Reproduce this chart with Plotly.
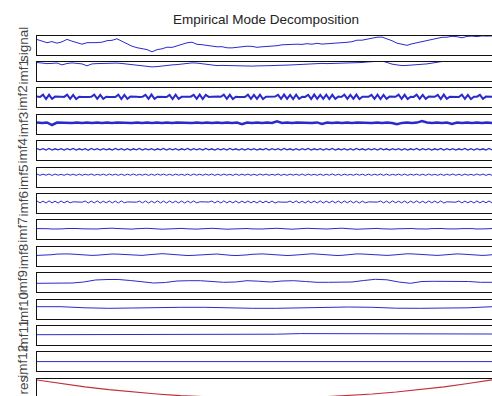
import numpy as np
import plotly.graph_objects as go

# ---------------- data ----------------
labels = ["signal", "imf1", "imf2", "imf3", "imf4", "imf5", "imf6", "imf7",
          "imf8", "imf9", "imf10", "imf11", "imf12", "res."]

signal = [5.5, 4.2, 2.3, 3.4, 1.8, 3.2, 5.6, 3.8, 2.2, 0.8,
          2.3, 2.2, 2.4, 2.8, 4.3, 4.7, 6.2, 3.7, 1.3, -1.2,
          -2.7, -3.9, -4.6, -6.8, -4.7, -3.8, -2.2, -2.4, -0.7, 0.3,
          2.2, 2.8, 0.7, 0.3, -0.4, -0.8, -1.8, -1.7, -2.8, -2.9,
          -2.2, -1.3, -1.2, -1.4, -2.3, -1.8, -1.6, -0.8, -0.7, 0.2,
          0.4, 1.2, 0.8, 0.6, 1.3, 0.8, 1.7, 0.9, 1.2, 1.4,
          2.2, 1.8, 2.7, 3.3, 4.8, 4.8, 5.7, 6.3, 7.8, 7.9,
          6.2, 4.3, 1.8, 0.7, -0.3, 1.2, 2.3, 3.7, 4.3, 5.7,
          6.3, 7.7, 7.8, 8.7, 8.3, 7.2, 8.6, 8.9, 8.4, 9.1,
          8.9, 9.1]

imf1 = [8.9, 8.3, 7.8, 8.0, 8.4, 6.5, 7.9, 8.5, 7.8, 7.5,
        5.6, 7.5, 7.8, 8.0, 8.3, 8.5, 8.3, 7.9, 7.3, 6.5,
        5.8, 5.5, 4.8, 4.5, 4.8, 5.5, 5.8, 6.5, 6.8, 7.5,
        7.8, 8.5, 8.3, 7.5, 6.8, 6.5, 5.8, 6.0, 5.8, 5.5,
        5.3, 5.5, 5.4, 5.3, 5.5, 5.4, 5.9, 5.8, 6.0, 5.9,
        6.3, 6.5, 6.8, 7.0, 7.3, 8.0, 7.8, 8.0, 7.8, 7.9,
        8.0, 7.8, 7.9, 8.0, 8.4, 8.9, 9.4, 9.9, 10.4, 10.4,
        8.9, 7.3, 6.5, 5.8, 6.0, 6.3, 6.5, 6.8, 7.5, 8.3,
        9.4, 9.9, 9.9, 10.9, 11.4, 11.4, 10.9, 10.4, 9.9, 10.9,
        11.4, 10.9]

imf2 = [1.2, 0.8, 3.2, -1.2, 3.0, -1.0, 1.2, 0.8, 1.1, 0.9,
        3.1, -1.1, 2.9, -1.2, 1.1, 0.9, 1.2, 0.8, 1.0, 3.2,
        -1.1, 3.0, -1.0, 1.1, 0.9, 1.2, 0.8, 3.1, -1.2, 2.9,
        -1.0, 1.2, 0.8, 1.1, 0.9, 1.0, 3.0, -1.1, 3.2, -1.0,
        1.1, 0.9, 1.2, 0.8, 2.9, -1.2, 3.1, -1.0, 1.0, 1.2,
        0.8, 1.1, 3.0, -1.1, 3.2, -1.2, 2.9, 0.9, 1.1, 0.8,
        1.2, 1.0, 3.1, -1.0, 3.0, -1.2, 1.1, 0.9, 1.2, 0.8,
        3.2, -1.1, 2.9, -1.0, 3.1, -1.2, 1.0, 1.1, 0.9, 1.2,
        3.0, -1.0, 3.2, -1.1, 2.9, -1.2, 3.1, -1.0, 1.1, 0.9,
        3.0, -1.2, 3.2, -1.0, 2.9, -1.1, 3.1, -1.2, 3.0, -1.0,
        1.2, 0.8, 3.1, -1.1, 2.9, -1.0, 3.2, -1.2, 1.1, 0.9,
        1.0, 3.0, -1.1, 3.1, -1.2, 2.9, -1.0, 1.2, 0.8, 1.1,
        3.2, -1.0, 3.0, -1.2, 1.1, 0.9, 3.1, -1.1, 2.9, -1.0,
        1.2, 0.8, 1.0, 3.0, -1.2, 3.2, -1.1, 1.1, 0.9, 1.2,
        0.8, 3.1, -1.0, 2.9, -1.2, 1.0, 1.1, 3.0, -1.1, 1.2,
        0.9, 1.0]

imf3 = [1.8, 1.2, 1.7, -0.8, 1.6, 1.3, 1.7, 1.2, 1.8, 1.3,
        1.6, 1.2, 1.7, 1.3, 1.8, 1.2, 1.6, 1.3, 1.7, 1.2,
        1.8, 1.3, 1.6, 1.2, 1.7, 1.3, 1.8, 1.2, 1.6, 1.3,
        1.7, 1.2, 1.8, 1.3, 1.6, 1.2, 1.7, 1.3, 1.8, 1.2,
        1.6, 0.0, 1.7, 1.2, 1.8, 1.3, 1.6, 1.2, 3.0, 1.3,
        1.8, 1.2, 1.6, 1.3, 1.7, 1.2, 1.8, 0.2, 1.6, 1.2,
        1.7, 1.3, 1.8, 1.2, 1.6, 1.3, 1.7, 1.2, 1.8, 1.3,
        1.6, 1.2, 0.0, 1.3, 1.8, 1.2, 1.6, 3.2, 1.7, 1.2,
        1.8, 1.3, 1.6, 0.3, 1.7, 1.2, 1.8, 1.3, 1.6, 1.2,
        1.7, 1.3]

imf4 = [2.0, 0.7, 1.9, 0.5, 2.1, 0.6, 1.8, 0.8, 2.0, 0.5,
        1.9, 0.7, 2.2, 0.6, 1.8, 0.7, 2.0, 0.4, 2.1, 0.7,
        1.9, 0.6, 2.0, 0.8, 1.8, 0.5, 2.1, 0.7, 1.9, 0.6,
        2.0, 0.5, 1.8, 0.7, 2.2, 0.6, 1.9, 0.8, 2.0, 0.6,
        1.8, 0.7, 2.1, 0.5, 1.9, 0.7, 2.0, 0.6, 1.8, 0.8,
        2.1, 0.5, 1.9, 0.7, 2.0, 0.6, 2.2, 0.7, 1.8, 0.5,
        2.0, 0.7, 1.9, 0.6, 2.1, 0.8, 1.8, 0.6, 2.0, 0.5,
        1.9, 0.7, 2.0, 0.6, 1.8, 0.7, 2.1, 0.5, 1.9, 0.8,
        2.0, 0.6, 2.2, 0.7, 1.8, 0.6, 2.0, 0.5, 1.9, 0.7,
        2.1, 0.6, 1.8, 0.8, 2.0, 0.5, 1.9, 0.7, 2.1, 0.6,
        1.8, 0.7, 2.0, 0.6, 1.9, 0.5, 2.2, 0.7, 1.8, 0.6,
        2.0, 0.8, 1.9, 0.5, 2.1, 0.7, 1.8, 0.6, 2.0, 0.7,
        1.9, 0.5, 2.0, 0.6, 1.8, 0.8, 2.1, 0.6, 1.9, 0.7,
        2.0, 0.5, 1.8, 0.7, 2.2, 0.6, 1.9, 0.7, 2.0, 0.6,
        1.8, 0.7, 2.1, 0.5, 1.9, 0.6, 2.0, 0.8, 1.8, 0.6,
        2.1, 0.7]

imf5 = [2.9, 1.7, 2.8, 1.8, 3.0, 1.6, 2.9, 1.8, 2.7, 1.7,
        3.0, 1.8, 2.8, 1.6, 2.9, 1.7, 2.8, 1.9, 3.0, 1.7,
        2.7, 1.8, 2.9, 1.6, 3.0, 1.8, 2.8, 1.7, 2.9, 1.6,
        2.8, 1.8, 3.0, 1.7, 2.7, 1.8, 2.9, 1.6, 2.8, 1.7,
        3.0, 1.8, 2.9, 1.7, 2.8, 1.6, 2.9, 1.8, 2.7, 1.7,
        2.9, 1.6, 3.0, 1.8, 2.8, 1.7, 2.9, 1.8, 3.0, 1.6,
        2.8, 1.7, 2.9, 1.8, 2.7, 1.6, 3.0, 1.7, 2.8, 1.8,
        2.9, 1.7, 2.8, 1.6, 3.0, 1.8, 2.9, 1.7, 2.7, 1.8,
        3.0, 1.6, 2.8, 1.7, 2.9, 1.8, 2.8, 1.7, 3.0, 1.6,
        2.9, 1.8, 2.7, 1.7, 2.9, 1.6, 2.8, 1.8, 3.0, 1.7,
        2.8, 1.6, 2.9, 1.8, 2.7, 1.7, 3.0, 1.8, 2.8, 1.6,
        2.9, 1.7, 2.8, 1.8, 3.0, 1.6, 2.9, 1.7, 2.7, 1.8,
        2.9, 1.7, 3.0, 1.6, 2.8, 1.8, 2.9, 1.7, 2.8, 1.6,
        3.0, 1.8, 2.7, 1.7, 2.9, 1.6, 2.8, 1.8, 3.0, 1.7,
        2.8, 1.6, 2.9, 1.8, 2.7, 1.7, 3.0, 1.8, 2.9, 1.6,
        2.8, 1.7]

imf6 = [2.4, 0.5, 2.3, 0.4, 2.5, 0.6, 2.2, 0.4, 2.4, 0.5,
        2.3, 0.6, 1.6, 1.3, 1.5, 1.2, 2.4, 0.4, 2.3, 0.5,
        2.5, 0.4, 2.2, 0.6, 2.4, 0.5, 2.3, 0.4, 2.5, 0.6,
        1.5, 1.3, 1.6, 1.2, 2.3, 0.5, 2.4, 0.4, 2.2, 0.6,
        2.5, 0.5, 2.3, 0.4, 2.4, 0.6, 2.2, 0.5, 2.4, 0.4,
        2.3, 0.6, 2.5, 0.5, 1.6, 1.2, 1.5, 1.3, 2.4, 0.5,
        2.3, 0.4, 2.5, 0.6, 2.2, 0.5, 2.4, 0.4, 2.3, 0.6,
        2.4, 0.5, 2.2, 0.4, 2.5, 0.6, 2.3, 0.5, 2.4, 0.4,
        1.6, 1.3, 1.5, 1.2, 2.3, 0.6, 2.5, 0.5, 2.2, 0.4,
        2.4, 0.6, 2.3, 0.5, 2.5, 0.4, 2.2, 0.6, 2.4, 0.5,
        2.3, 0.4, 2.4, 0.6, 2.5, 0.5, 2.2, 0.4, 2.3, 0.6,
        1.5, 1.2, 1.6, 1.3, 2.4, 0.5, 2.3, 0.4, 2.5, 0.6,
        2.2, 0.5, 2.4, 0.4, 2.3, 0.6, 2.5, 0.5, 2.2, 0.4,
        2.4, 0.6, 2.3, 0.5, 2.5, 0.4, 1.6, 1.3, 1.5, 1.2,
        2.4, 0.5, 2.3, 0.6, 2.2, 0.4, 2.5, 0.5, 2.3, 0.6,
        2.4, 0.5]

imf7 = [1.2, 1.4, 1.1, 0.8, 0.7, 0.9, 1.3, 1.5, 1.3, 1.0,
        0.7, 0.6, 0.8, 1.2, 1.5, 1.6, 1.3, 0.9, 0.6, 0.7,
        1.1, 1.4, 1.5, 1.2, 0.8, 0.6, 0.8, 1.2, 1.5, 1.4,
        1.0, 0.7, 0.7, 1.0, 1.4, 1.5, 1.2, 0.8, 0.6, 0.8,
        1.2, 1.5, 1.3, 0.9, 0.7, 0.8, 1.1, 1.4, 1.5, 1.2,
        0.8, 0.6, 0.9, 1.3, 1.5, 1.3, 0.9, 0.7, 0.8, 1.1,
        1.4, 1.6, 1.2, 0.8, 0.6, 0.8, 1.2, 1.5, 1.4, 1.0,
        0.7, 0.7, 1.0, 1.3, 1.5, 1.3, 0.9, 0.6, 0.8, 1.2,
        1.5, 1.3, 0.9, 0.7, 0.9, 1.2, 1.4, 1.2, 0.8, 0.7,
        1.0, 1.3]

imf8 = [0.8, 0.8, 1.0, 1.5, 2.1, 2.4, 2.3, 2.1, 1.6, 1.1,
        0.8, 0.8, 1.0, 1.5, 2.0, 2.2, 2.1, 1.7, 1.3, 0.9,
        0.7, 0.8, 1.3, 1.9, 2.3, 2.5, 2.2, 1.8, 1.3, 0.8,
        0.7, 0.8, 1.1, 1.6, 2.1, 2.3, 2.2, 1.7, 1.1, 0.8,
        0.7, 0.8, 1.3, 1.9, 2.2, 2.3, 2.0, 1.5, 1.0, 0.7,
        0.7, 0.9, 1.4, 1.9, 2.3, 2.4, 2.1, 1.6, 1.1, 0.8,
        0.7, 0.9, 1.4, 2.0, 2.3, 2.2, 1.9, 1.4, 0.9, 0.7,
        0.8, 1.1, 1.6, 2.1, 2.4, 2.3, 1.9, 1.3, 0.9, 0.7,
        0.8, 1.1, 1.7, 2.2, 2.3, 2.1, 1.6, 1.1, 0.8, 0.8,
        1.0, 1.5]

imf9 = [-0.7, -0.7, -0.7, -0.4, 0.6, 2.6, 3.1, 3.1, 2.1, 0.6,
        -0.4, 0.1, 1.6, 1.9, 1.9, 1.1, 0.3, 0.6, 1.9, 1.4,
        0.6, 1.6, 1.9, 1.1, 0.3, 0.3, 0.3, 0.6, 2.1, 3.3,
        2.8, 0.6, -0.7, 1.1, 1.3, 1.3, 1.3, 1.1, 0.3, 0.3]

imf10 = [2.3, 2.3, 1.2, 0.7, 1.0, 1.5, 1.7, 1.7, 1.0, 0.7,
         0.7, 1.0, 2.0, 2.0, 1.7, 0.8, 0.7, 0.7, 1.2, 2.3]

imf11 = [0.7, 0.7, 0.7, 0.7, 0.7, 0.7, 0.7, 0.7, 0.7, 0.7,
         1.2, 1.8, 1.8, 1.6, 1.4, 1.4, 1.4, 1.4, 1.4, 1.4]

imf12 = [0.2, 0.2, 0.1, 0.1, 0.1, 0.2, 0.2, 0.1, 0.1, 0.1,
         0.1, 0.1, 0.2, 0.2, 0.1, 0.1, 0.1, 0.1, 0.2, 0.2]

res = [8.2, 4.6, 1.4, -1.4, -3.8, -5.8, -7.5, -8.7, -9.5, -9.8,
       -9.8, -9.4, -8.6, -7.4, -5.8, -3.8, -1.4, 1.4, 4.7, 8.3]

series = [signal, imf1, imf2, imf3, imf4, imf5, imf6, imf7,
          imf8, imf9, imf10, imf11, imf12, res]

# ---------------- styling / layout ----------------
W, H = 492, 396
TOP0, PERIOD, PH = 35.5, 26.4, 19.0
LEFT = 37
HALF = PH / 2
BLUE = "#2a2acc"
RED = "#c0303a"
widths = [1, 1, 2.0, 2.5, 1.3, 1, 1, 1, 1, 1, 1, 1, 1, 1.2]
FONT = "Liberation Sans, Arial, Helvetica, sans-serif"

fig = go.Figure()
layout = {}
annotations = []

for i, (name, vals) in enumerate(zip(labels, series)):
    n = len(vals)
    sfx = "" if i == 0 else str(i + 1)
    color = RED if name == "res." else BLUE
    fig.add_trace(go.Scatter(
        x=np.arange(n), y=vals, mode="lines",
        line=dict(color=color, width=widths[i]),
        xaxis="x" + sfx, yaxis="y" + sfx,
        hoverinfo="skip", showlegend=False))
    top = TOP0 + PERIOD * i
    bot = top + PH
    ylo = -HALF
    if bot > H:
        ylo = -HALF + (bot - H)
        bot = H
    layout["xaxis" + sfx] = dict(
        domain=[LEFT / W, 1], range=[0, n - 1], anchor="y" + sfx,
        showticklabels=False, ticks="", showgrid=False, zeroline=False,
        showline=True, linecolor="#111", linewidth=1, mirror=True,
        fixedrange=True)
    layout["yaxis" + sfx] = dict(
        domain=[1 - bot / H, 1 - top / H], range=[ylo, HALF], anchor="x" + sfx,
        showticklabels=False, ticks="", showgrid=False, zeroline=False,
        showline=True, linecolor="#111", linewidth=1, mirror=False,
        fixedrange=True)
    mid = min(top + HALF, H - 12.5)
    annotations.append(dict(
        text=name, xref="paper", yref="paper",
        x=23 / W, y=1 - mid / H, xanchor="center", yanchor="middle",
        textangle=-90, showarrow=False,
        font=dict(family=FONT, size=13.5, color="#444")))

annotations.append(dict(
    text="Empirical Mode Decomposition", xref="paper", yref="paper",
    x=266 / W, y=1 - 20 / H, xanchor="center", yanchor="middle",
    showarrow=False, font=dict(family=FONT, size=13.5, color="#222")))

fig.update_layout(
    width=W, height=H,
    margin=dict(l=0, r=0, t=0, b=0),
    paper_bgcolor="white", plot_bgcolor="white",
    annotations=annotations,
    showlegend=False,
    **layout)

fig.write_html("out.html", config={"displayModeBar": False})
